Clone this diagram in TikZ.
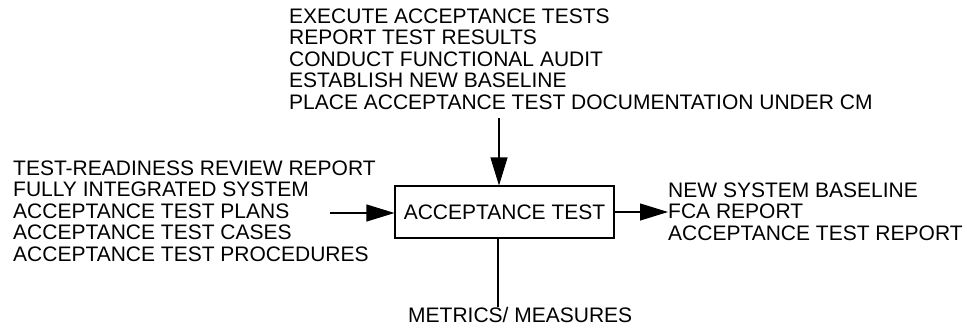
\documentclass[tikz,border=0pt]{standalone}
\usepackage{fontspec}
\setmainfont{Liberation Sans}
\usetikzlibrary{arrows.meta}
\begin{document}
\begin{tikzpicture}[x=1pt,y=-1pt,
  lbl/.style={inner sep=0pt, anchor=base west, align=left, font=\fontsize{21}{21.5}\selectfont},
  procbox/.style={draw, line width=1.1pt, inner sep=0pt, minimum width=219pt, minimum height=52pt, font=\fontsize{21}{21.5}\selectfont},
  conn/.style={line width=1.1pt},
  arr/.style={conn, -{Triangle[length=28pt,width=17pt]}}]
\useasboundingbox (0,0) rectangle (967,330);
\node[procbox] (box) at (504.5,212) {ACCEPTANCE TEST};
\node[lbl] (ctrl) at (289,109) {EXECUTE ACCEPTANCE TESTS\\REPORT TEST RESULTS\\CONDUCT FUNCTIONAL AUDIT\\ESTABLISH NEW BASELINE\\PLACE ACCEPTANCE TEST DOCUMENTATION UNDER CM};
\node[lbl] (inputs) at (13,261) {TEST-READINESS REVIEW REPORT\\FULLY INTEGRATED SYSTEM\\ACCEPTANCE TEST PLANS\\ACCEPTANCE TEST CASES\\ACCEPTANCE TEST PROCEDURES};
\node[lbl] (outputs) at (668,240) {NEW SYSTEM BASELINE\\FCA REPORT\\ACCEPTANCE TEST REPORT};
\node[lbl] (metrics) at (408,322) {METRICS/ MEASURES};
\coordinate (ctrlend) at (499,118);
\coordinate (inend) at (330,213);
\coordinate (outend) at (668,212);
\coordinate (mechend) at (498,307);
\draw[arr] (ctrlend) -- (ctrlend |- box.north);
\draw[arr] (inend) -- (inend -| box.west);
\draw[arr] (outend -| box.east) -- (outend);
\draw[conn] (mechend |- box.south) -- (mechend);
\end{tikzpicture}
\end{document}
